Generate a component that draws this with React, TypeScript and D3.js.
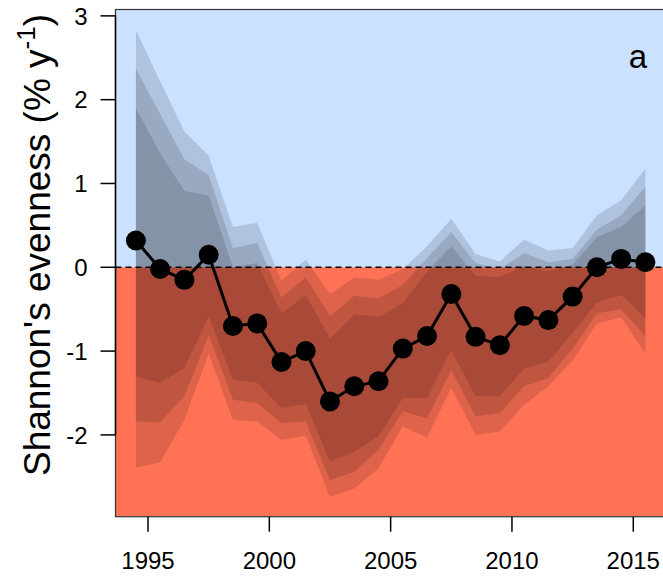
import React from "react";
import * as d3 from "d3";

const years = [1994.5, 1995.5, 1996.5, 1997.5, 1998.5, 1999.5, 2000.5, 2001.5, 2002.5, 2003.5, 2004.5, 2005.5, 2006.5, 2007.5, 2008.5, 2009.5, 2010.5, 2011.5, 2012.5, 2013.5, 2014.5, 2015.5];
const evenness = [0.32, -0.02, -0.15, 0.15, -0.70, -0.67, -1.13, -1.00, -1.60, -1.42, -1.36, -0.97, -0.82, -0.32, -0.83, -0.93, -0.58, -0.63, -0.35, 0.00, 0.10, 0.06];
const upperOuter = [2.83, 2.22, 1.62, 1.33, 0.48, 0.53, -0.16, 0.09, -0.32, -0.12, -0.15, -0.02, 0.25, 0.58, 0.16, 0.07, 0.33, 0.20, 0.23, 0.62, 0.80, 1.18];
const upperMid = [2.37, 1.83, 1.29, 1.10, 0.23, 0.29, -0.36, -0.12, -0.58, -0.34, -0.37, -0.21, 0.11, 0.42, 0.05, -0.02, 0.17, 0.06, 0.10, 0.45, 0.62, 0.96];
const upperInner = [1.90, 1.36, 0.91, 0.86, 0.00, 0.05, -0.55, -0.33, -0.85, -0.56, -0.59, -0.43, -0.05, 0.25, -0.10, -0.12, 0.02, -0.05, 0.03, 0.36, 0.48, 0.74];
const lowerOuter = [-2.39, -2.33, -1.82, -1.03, -1.82, -1.84, -2.06, -2.01, -2.74, -2.64, -2.40, -1.90, -2.03, -1.44, -2.00, -1.96, -1.64, -1.42, -1.11, -0.67, -0.60, -1.03];
const lowerMid = [-1.84, -1.85, -1.54, -0.81, -1.58, -1.62, -1.86, -1.84, -2.54, -2.44, -2.18, -1.72, -1.80, -1.23, -1.78, -1.74, -1.42, -1.32, -0.97, -0.55, -0.50, -0.83];
const lowerInner = [-1.30, -1.38, -1.20, -0.59, -1.34, -1.38, -1.68, -1.63, -2.32, -2.20, -2.02, -1.56, -1.56, -0.99, -1.54, -1.54, -1.21, -1.13, -0.78, -0.42, -0.33, -0.61];
const xTicks = [1995, 2000, 2005, 2010, 2015];
const yTicks = [-2, -1, 0, 1, 2, 3];

const W = 663;
const H = 577;
const left = 115.5;
const right = 665.8;
const top = 9.5;
const bottom = 516.7;

export default function App() {
  const x = d3.scaleLinear().domain([1993.66, 2016.34]).range([left, right]);
  const y = d3.scaleLinear().domain([-2.976, 3.076]).range([bottom, top]);

  const bands = [
    { lo: lowerOuter, hi: upperOuter },
    { lo: lowerMid, hi: upperMid },
    { lo: lowerInner, hi: upperInner },
  ];
  const area = (lo: number[], hi: number[]) =>
    d3
      .area<number>()
      .x((_, i) => x(years[i]))
      .y0((_, i) => y(lo[i]))
      .y1((_, i) => y(hi[i]))(years);
  const line = d3
    .line<number>()
    .x((_, i) => x(years[i]))
    .y((d) => y(d))(evenness);

  const font = "Liberation Sans, Arial, Helvetica, sans-serif";
  const y0 = y(0);

  return (
    <svg width={W} height={H} style={{ position: "absolute", left: 0, top: 0 }} fontFamily={font}>
      <defs>
        <clipPath id="plot">
          <rect x={left} y={top} width={right - left} height={bottom - top} />
        </clipPath>
      </defs>
      <g clipPath="url(#plot)">
        <rect x={left} y={top} width={right - left} height={y0 - top} fill="#CAE1FF" />
        <rect x={left} y={y0} width={right - left} height={bottom - y0} fill="#FF7256" />
        {bands.map((b, i) => (
          <path key={i} d={area(b.lo, b.hi) || ""} fill="#000" fillOpacity={0.13} />
        ))}
        <line x1={left} x2={right} y1={y0} y2={y0} stroke="#000" strokeWidth={1.6} strokeDasharray="6,4" />
        <path d={line || ""} fill="none" stroke="#000" strokeWidth={3} />
        {evenness.map((v, i) => (
          <circle key={i} cx={x(years[i])} cy={y(v)} r={10} fill="#000" />
        ))}
      </g>
      <rect x={left} y={top} width={right - left} height={bottom - top} fill="none" stroke="#333" strokeWidth={1.2} />
      {yTicks.map((t) => (
        <g key={t}>
          <line x1={left - 15} x2={left} y1={y(t)} y2={y(t)} stroke="#000" strokeWidth={1.5} />
          <text x={left - 28} y={y(t)} dy="0.36em" textAnchor="end" fontSize={24}>
            {t < 0 ? "-" + Math.abs(t) : String(t)}
          </text>
        </g>
      ))}
      <line x1={left} x2={left} y1={y(-2)} y2={y(3)} stroke="#000" strokeWidth={1.5} />
      {xTicks.map((t) => (
        <g key={t}>
          <line x1={x(t)} x2={x(t)} y1={bottom} y2={bottom + 15} stroke="#000" strokeWidth={1.5} />
          <text x={x(t)} y={bottom + 52} textAnchor="middle" fontSize={24}>
            {t}
          </text>
        </g>
      ))}
      <text x={638} y={68} textAnchor="middle" fontSize={33}>
        a
      </text>
      <text transform={`translate(50, 245) rotate(-90)`} textAnchor="middle" fontSize={37}>
        Shannon's evenness (% y
        <tspan fontSize={26} dy={-15}>-1</tspan>
        <tspan dy={15}>)</tspan>
      </text>
    </svg>
  );
}
